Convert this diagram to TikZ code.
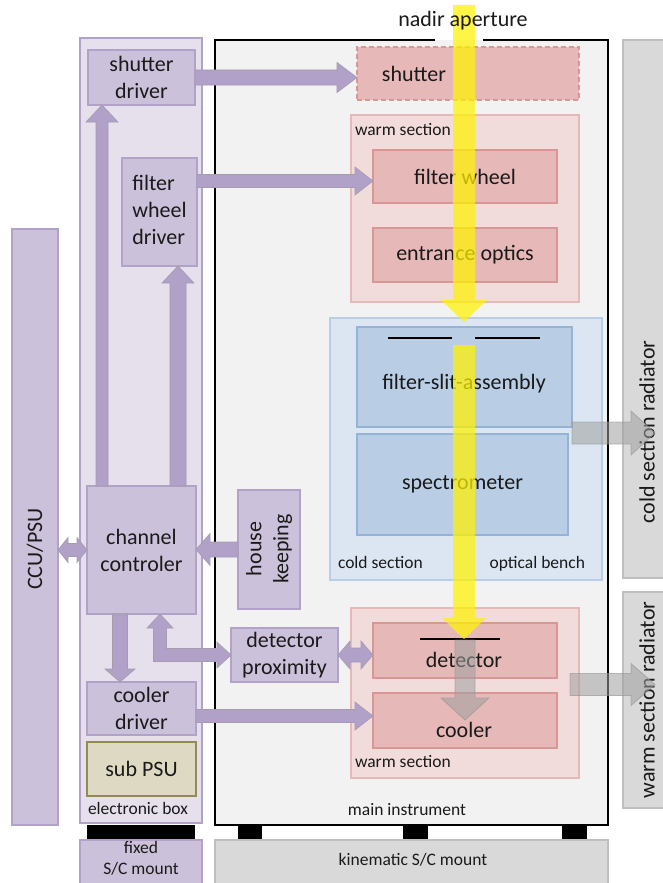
\documentclass[tikz,border=0pt]{standalone}
\usepackage{fontspec}
\setmainfont{Carlito}
\usetikzlibrary{calc}
\definecolor{pboxf}{HTML}{CCC1DA}
\definecolor{pboxd}{HTML}{B3A2C7}
\definecolor{eboxf}{HTML}{E6E0EC}
\definecolor{pinkf}{HTML}{E6B9B8}
\definecolor{pinkd}{HTML}{D99694}
\definecolor{warmf}{HTML}{F2DCDB}
\definecolor{bluef}{HTML}{B9CDE5}
\definecolor{blued}{HTML}{95B3D7}
\definecolor{coldf}{HTML}{DCE6F2}
\definecolor{grayf}{HTML}{D9D9D9}
\definecolor{grayd}{HTML}{BFBFBF}
\definecolor{psuf}{HTML}{DDD9C3}
\definecolor{psud}{HTML}{948A54}
\definecolor{mainf}{HTML}{F2F2F2}
\definecolor{parrf}{HTML}{B1A0C7}
\definecolor{parrd}{HTML}{A39DAE}
\definecolor{txt}{HTML}{1A1A1A}
\tikzset{
  base/.style={inner sep=0pt, outer sep=0pt, text=txt, align=center, font=\fontsize{22}{27}\selectfont},
  small/.style={inner sep=0pt, outer sep=0pt, text=txt, font=\fontsize{17.5}{21}\selectfont},
  purp/.style={base, fill=pboxf, draw=pboxd, line width=1.3pt},
  ebox/.style={base, fill=eboxf, draw=pboxd, line width=1.5pt},
  pink/.style={base, fill=pinkf, draw=pinkd, line width=1.3pt},
  warm/.style={base, fill=warmf, draw=pinkf, line width=1.3pt},
  blue/.style={base, fill=bluef, draw=blued, line width=1.3pt},
  cold/.style={base, fill=coldf, draw=bluef, line width=1.3pt},
  grey/.style={base, fill=grayf, draw=grayd, line width=1.3pt},
  psu/.style={base, fill=psuf, draw=psud, line width=1.6pt},
  foot/.style={fill=black, inner sep=0pt, outer sep=0pt},
  parrow/.style={fill=parrf, draw=parrd, line width=0.6pt},
  garrow/.style={fill=gray!75, fill opacity=0.55, draw=gray!85, draw opacity=0.6, line width=0.8pt},
  beam/.style={fill=yellow, fill opacity=0.72},
}
% box: [opts]{style}{x1}{y1}{x2}{y2}{name}{text}
\newcommand\bx[8][]{\node[#2, minimum width={#5pt-#3pt}, minimum height={#6pt-#4pt}, #1] (#7) at ({(#3+#5)/2},{(#4+#6)/2}) {#8};}
% single block arrow: [style]{from}{to}{shaft half}{head half}{head length}
\newcommand\barrow[6][]{\path[#1] let \p1=(#2), \p2=(#3), \n1={veclen(\x2-\x1,\y2-\y1)}, \n2={atan2(\y2-\y1,\x2-\x1)} in
  [shift={(\p1)}, rotate=\n2] (0pt,#4pt) -- (\n1-#6pt,#4pt) -- (\n1-#6pt,#5pt) -- (\n1,0pt) -- (\n1-#6pt,-#5pt) -- (\n1-#6pt,-#4pt) -- (0pt,-#4pt) -- cycle;}
% double block arrow
\newcommand\dbarrow[6][]{\path[#1] let \p1=(#2), \p2=(#3), \n1={veclen(\x2-\x1,\y2-\y1)}, \n2={atan2(\y2-\y1,\x2-\x1)} in
  [shift={(\p1)}, rotate=\n2] (#6pt,#4pt) -- (\n1-#6pt,#4pt) -- (\n1-#6pt,#5pt) -- (\n1,0pt) -- (\n1-#6pt,-#5pt) -- (\n1-#6pt,-#4pt) -- (#6pt,-#4pt) -- (#6pt,-#5pt) -- (0pt,0pt) -- (#6pt,#5pt) -- cycle;}
\begin{document}
\begin{tikzpicture}[x=1pt,y=-1pt]
\useasboundingbox (0,0) rectangle (662,883);
\fill[white] (0,0) rectangle (662,883);

% ---------- electronic box side ----------
\bx{ebox}{80}{38}{202}{823}{ebox}{}
\bx{purp}{12}{229}{58}{825}{ccu}{}
\node[base, rotate=90] (ccut) at (35,549) {CCU/PSU};
\bx{purp}{88}{50}{195}{105}{sd}{shutter\\driver}
\bx{purp}{122}{158}{197}{266}{fwd}{\begin{tabular}{@{}l@{}}filter\\wheel\\driver\end{tabular}}
\bx{purp}{87}{486}{196}{614}{cc}{channel\\controler}
\bx{purp}{87}{682}{196}{735}{cd}{cooler\\driver}
\bx{psu}{87}{742}{196}{796}{spsu}{sub PSU}
\node[small] (ebl) at (138,808) {electronic box};
\bx{foot}{87}{825}{195}{840}{m1}{}
\bx{purp}{80}{840}{202}{890}{fsc}{}
\node[small, align=center, font=\fontsize{17.5}{21}\selectfont] (fsct) at (141,858) {fixed\\S/C mount};

% ---------- main instrument ----------
\bx[draw=none]{base}{215}{40}{608}{825}{main}{}
\fill[mainf] (main.north west) rectangle (main.south east);
\coordinate (apl) at (435,40);
\coordinate (apr) at (483,40);
\draw[black, line width=2.5pt] (apl) -- (main.north west) -- (main.south west) -- (main.south east) -- (main.north east) -- (apr);
\node[small] (mil) at (407,810) {main instrument};
\bx{foot}{238}{825}{262}{840}{f1}{}
\bx{foot}{403}{825}{428}{840}{f2}{}
\bx{foot}{562}{825}{587}{840}{f3}{}
\bx{grey}{215}{840}{608}{890}{kin}{}
\node[small] (kint) at (413,860) {kinematic S/C mount};

% housekeeping, detector proximity
\bx{purp}{238}{490}{300}{609}{hk}{}
\node[base, rotate=90] (hkt) at (269,549) {house\\keeping};
\bx{purp}{231}{628}{338}{682}{dp}{detector\\proximity}

% shutter
\bx[dashed, dash pattern=on 5pt off 3pt]{pink}{357}{47}{579}{100}{sh}{}
\node[base] (sht) at (414,74) {shutter};

% upper warm section
\bx{warm}{351}{115}{579}{302}{warm1}{}
\node[small, anchor=west] (w1l) at (355,130) {warm section};
\bx{pink}{373}{150}{557}{203}{fw}{filter wheel}
\bx{pink}{373}{228}{557}{282}{eo}{entrance optics}

% cold section
\bx{cold}{330}{318}{602}{580}{cold}{}
\bx{blue}{357}{327}{572}{427}{fsa}{}
\node[base] (fsat) at (464,384) {filter-slit-assembly};
\bx{blue}{357}{434}{568}{535}{spec}{spectrometer}
\node[small, anchor=west] (csl) at (338,562) {cold section};
\node[small, anchor=east] (obl) at (585,564) {optical bench};
\coordinate (sl1) at (388,338);
\coordinate (sl2) at (452,338);
\coordinate (sl3) at (475,338);
\coordinate (sl4) at (540,338);
\draw[black, line width=2.2pt] (sl1) -- (sl2) (sl3) -- (sl4);

% lower warm section
\bx{warm}{351}{608}{579}{778}{warm2}{}
\node[small, anchor=west] (w2l) at (355,762) {warm section};
\bx{pink}{373}{623}{557}{678}{det}{}
\node[base] (dett) at (464,660) {detector};
\bx{pink}{373}{693}{557}{748}{cool}{}
\node[base] (coolt) at (464,730) {cooler};
\coordinate (dl1) at (420,639);
\coordinate (dl2) at (500,639);
\draw[black, line width=2.2pt] (dl1) -- (dl2);

% radiators
\bx{grey}{623}{40}{670}{578}{crad}{}
\node[base, rotate=90] (cradt) at (647,432) {cold section radiator};
\bx{grey}{623}{592}{670}{808}{wrad}{}
\node[base, rotate=90] (wradt) at (647,700) {warm section radiator};

% ---------- purple arrows ----------
\coordinate (a1) at (sd.east);
\barrow[parrow]{a1}{a1 -| sh.west}{7.5}{15}{20}
\coordinate (a2) at ([yshift=31pt]fwd.east);
\barrow[parrow]{a2}{a2 -| fw.west}{6.5}{14}{18}
\coordinate (a3) at ([xshift=15pt]cc.north west);
\barrow[parrow]{a3}{a3 |- sd.south}{6}{16}{17}
\coordinate (a4) at ([xshift=91pt]cc.north west);
\barrow[parrow]{a4}{a4 |- fwd.south}{8}{16}{17}
\dbarrow[parrow]{cc.west -| ccu.east}{cc.west}{6.5}{12.5}{10}
\barrow[parrow]{hk.west}{hk.west -| cc.east}{7.5}{16}{14}
\coordinate (a7) at ([xshift=33pt]cc.south west);
\barrow[parrow]{a7}{a7 |- cd.north}{7.5}{15}{13}
\dbarrow[parrow]{dp.east}{dp.east -| det.west}{7}{14}{12}
\coordinate (a10) at ([yshift=-7.5pt]cd.east);
\barrow[parrow]{a10}{a10 -| cool.west}{6.5}{14}{18}
% L-shaped double arrow channel controler <-> detector proximity
\coordinate (elb) at ([xshift=73pt]cc.south west);
\path[parrow] let \p1=(elb |- cc.south), \p2=(dp.west) in
  (\x1,\y1) -- (\x1+13pt,\y1-14pt) -- (\x1+6.5pt,\y1-14pt) -- (\x1+6.5pt,\y2+6.5pt)
  -- (\x2-14pt,\y2+6.5pt) -- (\x2-14pt,\y2+13pt) -- (\x2,\y2) -- (\x2-14pt,\y2-13pt)
  -- (\x2-14pt,\y2-6.5pt) -- (\x1-6.5pt,\y2-6.5pt) -- (\x1-6.5pt,\y1-14pt) -- (\x1-13pt,\y1-14pt) -- cycle;

% ---------- grey heat arrows ----------
\coordinate (g1) at ([yshift=-17pt]det.north);
\coordinate (g1e) at ([yshift=-27pt]cool.north);
\barrow[garrow]{g1}{g1 |- g1e}{10}{24}{22}
\coordinate (g2) at ([yshift=-56pt]fsa.east);
\coordinate (g2e) at ([xshift=-15pt]crad.east);
\barrow[garrow]{g2}{g2 -| g2e}{11}{22}{24}
\coordinate (g3) at ([xshift=13pt,yshift=-34pt]det.east);
\barrow[garrow]{g3}{g3 -| g2e}{11}{21}{24}

% ---------- light beam ----------
\coordinate (ap) at (464,5);
\coordinate (b1e) at ([yshift=-4pt]cold.north);
\barrow[beam]{ap}{ap |- b1e}{11}{23}{22}
\coordinate (b2) at (464,345);
\barrow[beam]{b2}{b2 |- dl1}{11}{22}{21}
\node[base] (nadir) at (463,21) {nadir aperture};
\end{tikzpicture}
\end{document}
